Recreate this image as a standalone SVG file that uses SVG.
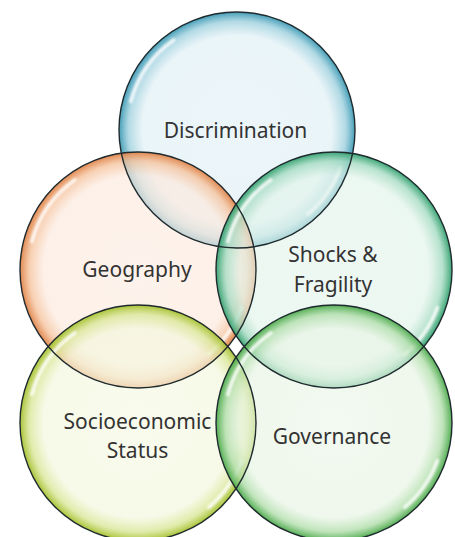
<svg xmlns="http://www.w3.org/2000/svg" xmlns:xlink="http://www.w3.org/1999/xlink" width="455" height="537" viewBox="0 0 455 537">
  <style>
    .ring { fill: none; stroke: #1f2a2e; stroke-width: 1.4; }
    .label { font-family: "Noto Sans", "Open Sans", sans-serif; font-size: 21px; fill: #333333; text-anchor: middle; }
    .hl { fill: none; stroke: #ffffff; stroke-width: 3.5; stroke-linecap: round; opacity: 0.85; filter: url(#soft); }
  </style>
  <defs>
    <filter id="soft" x="-20%" y="-20%" width="140%" height="140%">
      <feGaussianBlur stdDeviation="1"/>
    </filter>
    <radialGradient id="gBlue" cx="50%" cy="50%" r="50%">
      <stop offset="0" stop-color="#e4f2f7" stop-opacity="0.7"/>
      <stop offset="0.8" stop-color="#e0f0f5" stop-opacity="0.68"/>
      <stop offset="0.92" stop-color="#9ccfdd" stop-opacity="0.78"/>
      <stop offset="1" stop-color="#3a98b3" stop-opacity="0.95"/>
    </radialGradient>
    <radialGradient id="gOrange" cx="50%" cy="50%" r="50%">
      <stop offset="0" stop-color="#fdeee4" stop-opacity="0.7"/>
      <stop offset="0.8" stop-color="#fce9dd" stop-opacity="0.68"/>
      <stop offset="0.92" stop-color="#f5c29c" stop-opacity="0.78"/>
      <stop offset="1" stop-color="#df8246" stop-opacity="0.95"/>
    </radialGradient>
    <radialGradient id="gTeal" cx="50%" cy="50%" r="50%">
      <stop offset="0" stop-color="#e6f5ee" stop-opacity="0.68"/>
      <stop offset="0.8" stop-color="#e1f3ea" stop-opacity="0.66"/>
      <stop offset="0.92" stop-color="#a2dac0" stop-opacity="0.78"/>
      <stop offset="1" stop-color="#31a06e" stop-opacity="0.95"/>
    </radialGradient>
    <radialGradient id="gLime" cx="50%" cy="50%" r="50%">
      <stop offset="0" stop-color="#f6f9e6" stop-opacity="0.7"/>
      <stop offset="0.8" stop-color="#f3f7dd" stop-opacity="0.68"/>
      <stop offset="0.92" stop-color="#d8e695" stop-opacity="0.78"/>
      <stop offset="1" stop-color="#a4c02c" stop-opacity="0.95"/>
    </radialGradient>
    <radialGradient id="gGreen" cx="50%" cy="50%" r="50%">
      <stop offset="0" stop-color="#edf7ea" stop-opacity="0.68"/>
      <stop offset="0.8" stop-color="#e7f4e3" stop-opacity="0.66"/>
      <stop offset="0.92" stop-color="#afdda9" stop-opacity="0.78"/>
      <stop offset="1" stop-color="#4aa94a" stop-opacity="0.95"/>
    </radialGradient>
    <!-- glassy highlight crescents, relative to circle centre -->
    <g id="shine">
      <path class="hl" d="M -106.2 -28.5 A 110 110 0 0 1 -63.1 -90.1"/>
      <path class="hl" d="M 103.4 37.6 A 110 110 0 0 1 70.7 84.3"/>
    </g>
  </defs>

  <g id="connectors"></g>

  <g id="discrimination" transform="translate(237,130)">
    <circle r="118" fill="url(#gBlue)"/>
    <use xlink:href="#shine"/>
    <text class="label" x="-1.5" y="8">Discrimination</text>
  </g>

  <g id="geography" transform="translate(138,270)">
    <circle r="118" fill="url(#gOrange)"/>
    <use xlink:href="#shine"/>
    <text class="label" x="-1" y="7">Geography</text>
  </g>

  <g id="shocks-fragility" transform="translate(334,270)">
    <circle r="118" fill="url(#gTeal)"/>
    <use xlink:href="#shine"/>
    <text class="label" x="-1" y="-8">Shocks &amp;</text>
    <text class="label" x="-1" y="22">Fragility</text>
  </g>

  <g id="socioeconomic-status" transform="translate(138,423)">
    <circle r="118" fill="url(#gLime)"/>
    <use xlink:href="#shine"/>
    <text class="label" x="-0.5" y="6">Socioeconomic</text>
    <text class="label" x="-0.5" y="35">Status</text>
  </g>

  <g id="governance" transform="translate(334,423)">
    <circle r="118" fill="url(#gGreen)"/>
    <use xlink:href="#shine"/>
    <text class="label" x="-2" y="21">Governance</text>
  </g>

  <!-- dark rims kept on top so every edge shows through the overlaps -->
  <g id="rims">
    <circle class="ring" cx="237" cy="130" r="118"/>
    <circle class="ring" cx="138" cy="270" r="118"/>
    <circle class="ring" cx="334" cy="270" r="118"/>
    <circle class="ring" cx="138" cy="423" r="118"/>
    <circle class="ring" cx="334" cy="423" r="118"/>
  </g>
</svg>
